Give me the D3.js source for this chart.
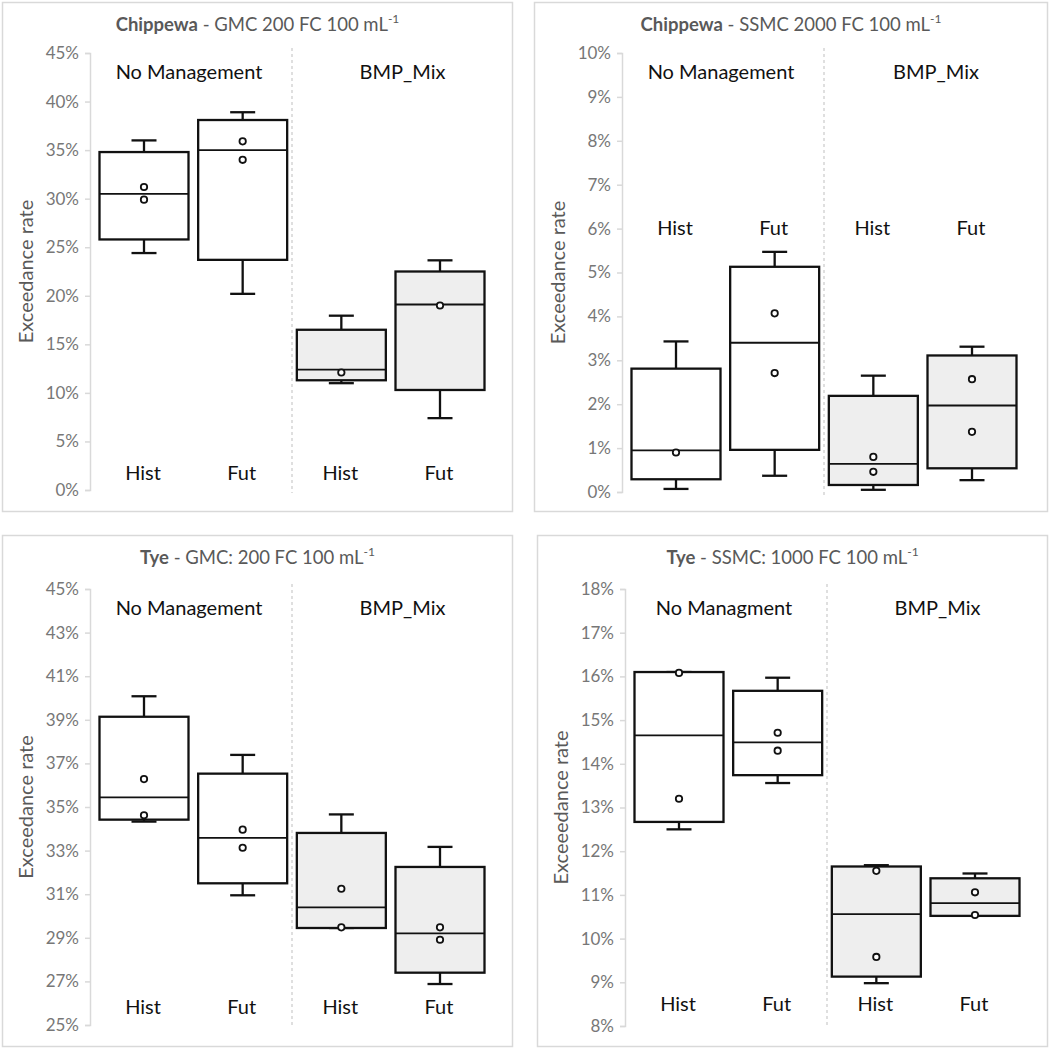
<!DOCTYPE html>
<html><head><meta charset="utf-8">
<script src="https://cdn.jsdelivr.net/npm/d3@7"></script>
<style>
html,body{margin:0;padding:0;background:#fff;}
svg{display:block;font-family:Lato, "Open Sans", sans-serif;}
</style></head>
<body><svg id="c" width="1050" height="1048"></svg>
<script>
// ---------- data ----------
const categories = ["NM-Hist","NM-Fut","BMP-Hist","BMP-Fut"];
const periodLabels = ["Hist","Fut","Hist","Fut"];
const titlesBold = ["Chippewa","Chippewa","Tye","Tye"];
const titlesRest = [" - GMC 200 FC 100 mL"," - SSMC 2000 FC 100 mL"," - GMC: 200 FC 100 mL"," - SSMC: 1000 FC 100 mL"];
const groupLabels1 = ["No Management","No Management","No Management","No Managment"];
const groupLabels2 = ["BMP_Mix","BMP_Mix","BMP_Mix","BMP_Mix"];
const yAxisTitles = ["Exceedance rate","Exceedance rate","Exceedance rate","Exceeedance rate"];

const ticks1 = [0,5,10,15,20,25,30,35,40,45];
const ticks2 = [0,1,2,3,4,5,6,7,8,9,10];
const ticks3 = [25,27,29,31,33,35,37,39,41,43,45];
const ticks4 = [8,9,10,11,12,13,14,15,16,17,18];

// Chippewa GMC (%)
const p1Low  = [24.4, 20.2, 11.0, 7.4];
const p1Q1   = [25.8, 23.7, 11.3, 10.3];
const p1Med  = [30.5, 35.0, 12.4, 19.1];
const p1Q3   = [34.8, 38.1, 16.5, 22.5];
const p1High = [36.0, 38.9, 17.95, 23.65];
const p1Pts  = [[31.2, 29.9],[35.9, 34.0],[12.1],[19.0]];
// Chippewa SSMC (%)
const p2Low  = [0.07, 0.37, 0.05, 0.27];
const p2Q1   = [0.29, 0.96, 0.16, 0.54];
const p2Med  = [0.95, 3.40, 0.64, 1.97];
const p2Q3   = [2.81, 5.13, 2.19, 3.11];
const p2High = [3.43, 5.47, 2.65, 3.31];
const p2Pts  = [[0.90],[4.07, 2.71],[0.80, 0.46],[2.57, 1.37]];
// Tye GMC (%)
const p3Low  = [34.33, 30.95, 29.45, 26.88];
const p3Q1   = [34.42, 31.5, 29.45, 27.4];
const p3Med  = [35.44, 33.58, 30.40, 29.2];
const p3Q3   = [39.14, 36.53, 33.81, 32.25];
const p3High = [40.08, 37.39, 34.66, 33.17];
const p3Pts  = [[36.28, 34.62],[33.96, 33.13],[31.25, 29.48],[29.48, 28.91]];
// Tye SSMC (%)
const p4Low  = [12.5, 13.56, 8.98, 10.52];
const p4Q1   = [12.67, 13.74, 9.13, 10.52];
const p4Med  = [14.65, 14.49, 10.56, 10.81];
const p4Q3   = [16.1, 15.67, 11.65, 11.38];
const p4High = [16.1, 15.97, 11.68, 11.49];
const p4Pts  = [[16.08, 13.2],[14.71, 14.3],[11.55, 9.58],[11.06, 10.54]];

// ---------- layout ----------
const panels = [
  {x:2,   y:2,   w:511, h:510, ticks:ticks1, low:p1Low, q1:p1Q1, med:p1Med, q3:p1Q3, high:p1High, pts:p1Pts, yTop:51, yBot:488, periodY:470, sepTop:46, sepBot:491},
  {x:534, y:2,   w:514, h:510, ticks:ticks2, low:p2Low, q1:p2Q1, med:p2Med, q3:p2Q3, high:p2High, pts:p2Pts, yTop:51, yBot:490, periodY:225, sepTop:46, sepBot:493},
  {x:2,   y:535, w:511, h:512, ticks:ticks3, low:p3Low, q1:p3Q1, med:p3Med, q3:p3Q3, high:p3High, pts:p3Pts, yTop:54, yBot:490, periodY:471, sepTop:49, sepBot:493},
  {x:537, y:535, w:511, h:512, ticks:ticks4, low:p4Low, q1:p4Q1, med:p4Med, q3:p4Q3, high:p4High, pts:p4Pts, yTop:54, yBot:491, periodY:468, sepTop:49, sepBot:493}
];

const svg = d3.select("#c");
const boxW = 89, capW = 25;
const ink = "#111";
const sw = 2.3;

panels.forEach((p, i) => {
  const g = svg.append("g").attr("transform", `translate(${p.x},${p.y})`);
  g.append("rect").attr("x",0.5).attr("y",0.5).attr("width",p.w-1).attr("height",p.h-1)
    .attr("fill","#fff").attr("stroke","#d9d9d9").attr("stroke-width",1.5);

  const axisX = 88;
  const y = d3.scaleLinear().domain([d3.min(p.ticks), d3.max(p.ticks)]).range([p.yBot, p.yTop]);
  const x = d3.scalePoint().domain(categories).range([142, 438]);

  // y axis
  const ax = g.append("g").attr("transform", `translate(${axisX},0)`)
    .call(d3.axisLeft(y).tickValues(p.ticks).tickFormat(d => d + "%").tickSize(5).tickPadding(6));
  ax.select(".domain").attr("stroke","#d9d9d9").attr("stroke-width",1.5);
  ax.selectAll(".tick line").attr("stroke","#d9d9d9").attr("stroke-width",1.5);
  ax.selectAll(".tick text").attr("fill","#777").style("font-size","17px").style("font-family","Lato, sans-serif");

  // y axis title
  g.append("text").attr("transform", `translate(23,${(p.yTop+p.yBot)/2}) rotate(-90)`)
    .attr("text-anchor","middle").attr("dominant-baseline","central")
    .attr("fill","#595959").style("font-size","20px").text(yAxisTitles[i]);

  // title
  const t = g.append("text").attr("x", p.w/2).attr("y", 22).attr("text-anchor","middle")
    .attr("dominant-baseline","central").attr("fill","#595959").style("font-size","18.5px");
  t.append("tspan").attr("font-weight","bold").text(titlesBold[i]);
  t.append("tspan").text(titlesRest[i]);
  t.append("tspan").attr("dy",-6).style("font-size","12px").text("-1");

  // separator
  const sepX = (x(categories[1]) + x(categories[2]))/2;
  g.append("line").attr("x1",sepX).attr("x2",sepX).attr("y1",p.sepTop).attr("y2",p.sepBot)
    .attr("stroke","#bfbfbf").attr("stroke-width",1).attr("stroke-dasharray","3,3");

  // group labels
  g.append("text").attr("x",(axisX+sepX)/2-2).attr("y", i<2?69:72).attr("text-anchor","middle")
    .attr("dominant-baseline","central").attr("fill","#111").style("font-size","20px").text(groupLabels1[i]);
  g.append("text").attr("x",(sepX+p.w)/2).attr("y", i<2?69:72).attr("text-anchor","middle")
    .attr("dominant-baseline","central").attr("fill","#111").style("font-size","20px").text(groupLabels2[i]);

  // period labels
  g.selectAll(".plab").data(categories).enter().append("text")
    .attr("x", d => x(d) - 1).attr("y", p.periodY).attr("text-anchor","middle")
    .attr("dominant-baseline","central").attr("fill","#111").style("font-size","20px")
    .text((d,k) => periodLabels[k]);

  // boxes
  categories.forEach((c, k) => {
    const cx = x(c);
    const fill = k < 2 ? "#ffffff" : "#eeeeee";
    const bg = g.append("g");
    bg.append("line").attr("x1",cx).attr("x2",cx).attr("y1",y(p.high[k])).attr("y2",y(p.q3[k]))
      .attr("stroke",ink).attr("stroke-width",sw);
    bg.append("line").attr("x1",cx).attr("x2",cx).attr("y1",y(p.low[k])).attr("y2",y(p.q1[k]))
      .attr("stroke",ink).attr("stroke-width",sw);
    bg.append("line").attr("x1",cx-capW/2).attr("x2",cx+capW/2).attr("y1",y(p.high[k])).attr("y2",y(p.high[k]))
      .attr("stroke",ink).attr("stroke-width",sw);
    bg.append("line").attr("x1",cx-capW/2).attr("x2",cx+capW/2).attr("y1",y(p.low[k])).attr("y2",y(p.low[k]))
      .attr("stroke",ink).attr("stroke-width",sw);
    bg.append("rect").attr("x",cx-boxW/2).attr("width",boxW)
      .attr("y",y(p.q3[k])).attr("height",y(p.q1[k])-y(p.q3[k]))
      .attr("fill",fill).attr("stroke",ink).attr("stroke-width",sw);
    bg.append("line").attr("x1",cx-boxW/2).attr("x2",cx+boxW/2).attr("y1",y(p.med[k])).attr("y2",y(p.med[k]))
      .attr("stroke",ink).attr("stroke-width",1.8);
    bg.selectAll("circle").data(p.pts[k]).enter().append("circle")
      .attr("cx",cx).attr("cy",d => y(d)).attr("r",3.2)
      .attr("fill","#fff").attr("stroke",ink).attr("stroke-width",1.8);
  });
});
</script></body></html>
